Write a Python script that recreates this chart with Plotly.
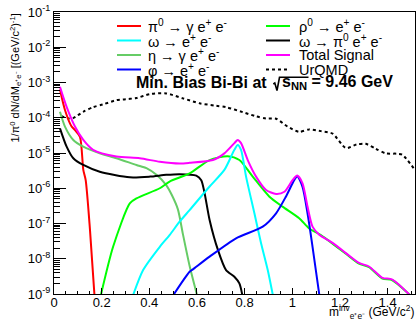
import numpy as np
import plotly.graph_objects as go

# ---------------- data (x in GeV/c^2, y given as log10 of yield) ----------------
pi0_x   = [0.025, 0.046, 0.074, 0.088, 0.109, 0.123, 0.133, 0.151, 0.170]
pi0_log = [-3.20, -3.78, -4.25, -4.35, -4.54, -5.48, -5.77, -7.18, -9.05]

eta_x   = [0.025, 0.046, 0.081, 0.123, 0.192, 0.262, 0.346, 0.388, 0.430, 0.471, 0.495, 0.520, 0.541, 0.569, 0.601]
eta_log = [-3.83, -4.25, -4.63, -4.82, -5.01, -5.15, -5.34, -5.43, -5.62, -5.91, -6.20, -6.60, -7.30, -8.20, -9.05]

omdal_x   = [0.025, 0.053, 0.081, 0.123, 0.192, 0.318, 0.402, 0.471, 0.527, 0.597, 0.618, 0.632, 0.653, 0.688, 0.722, 0.757, 0.778, 0.791]
omdal_log = [-4.30, -4.82, -5.15, -5.34, -5.53, -5.69, -5.67, -5.62, -5.60, -5.64, -5.77, -6.14, -6.90, -7.75, -8.32, -8.51, -8.70, -9.05]

rho_x   = [0.196, 0.248, 0.318, 0.346, 0.444, 0.485, 0.569, 0.653, 0.729, 0.778, 0.834, 0.904, 0.959, 1.029, 1.071, 1.120,
           1.169, 1.225, 1.280, 1.322, 1.378, 1.420, 1.492]
rho_log = [-9.05, -7.66, -6.43, -6.29, -6.00, -5.81, -5.58, -5.20, -5.09, -5.20, -5.67, -6.24, -6.52, -6.85, -7.14, -7.33,
           -7.57, -7.86, -8.14, -8.24, -8.56, -8.61, -9.02]

omee_x   = [0.331, 0.374, 0.444, 0.485, 0.527, 0.569, 0.653, 0.715, 0.757, 0.771, 0.785, 0.806, 0.841, 0.869, 0.897, 0.919]
omee_log = [-9.05, -8.32, -7.66, -7.33, -6.95, -6.62, -5.95, -5.48, -4.91, -4.77, -4.91, -5.67, -6.71, -7.56, -8.32, -9.05]

phi_x   = [0.499, 0.569, 0.583, 0.653, 0.764, 0.876, 0.932, 0.973, 1.008, 1.021, 1.043, 1.064, 1.085, 1.114]
phi_log = [-9.05, -8.37, -8.30, -7.94, -7.42, -7.09, -6.71, -6.24, -5.77, -5.66, -5.96, -6.71, -7.66, -9.05]

tot_x   = [0.025, 0.053, 0.088, 0.123, 0.164, 0.262, 0.360, 0.444, 0.527, 0.569, 0.667, 0.715, 0.757, 0.771, 0.785, 0.813,
           0.848, 0.890, 0.932, 0.967, 1.001, 1.021, 1.043, 1.064, 1.085, 1.113, 1.169, 1.225, 1.280, 1.322, 1.378, 1.420, 1.492]
tot_log = [-3.12, -3.69, -4.25, -4.63, -4.91, -5.10, -5.15, -5.25, -5.30, -5.28, -5.20, -5.01, -4.72, -4.63, -4.72, -5.20,
           -5.67, -6.05, -6.16, -6.10, -5.77, -5.64, -5.86, -6.52, -7.09, -7.32, -7.55, -7.84, -8.12, -8.22, -8.54, -8.59, -9.02]

urqmd_x   = [0.030, 0.060, 0.080, 0.123, 0.164, 0.206, 0.262, 0.290, 0.346, 0.402, 0.471, 0.541, 0.611, 0.681, 0.722, 0.792,
             0.848, 0.890, 0.932, 0.980, 1.029, 1.071, 1.120, 1.169, 1.225, 1.270, 1.308, 1.350, 1.392, 1.440, 1.462, 1.515]
urqmd_log = [-3.95, -4.02, -4.01, -3.83, -3.70, -3.62, -3.50, -3.48, -3.44, -3.33, -3.31, -3.45, -3.59, -3.66, -3.70, -3.84,
             -3.96, -4.02, -4.03, -4.25, -4.40, -4.33, -4.38, -4.45, -4.86, -4.76, -4.74, -4.88, -5.01, -5.02, -5.05, -5.48]

y_tick_exponents = [-9, -8, -7, -6, -5, -4, -3, -2, -1]
x_tick_values = [0, 0.2, 0.4, 0.6, 0.8, 1.0, 1.2, 1.4]
x_tick_labels = ["0", "0.2", "0.4", "0.6", "0.8", "1", "1.2", "1.4"]

series = [
    ("π<sup>0</sup> → γ e<sup>+</sup> e<sup>-</sup>", pi0_x, pi0_log, "#ff0000", "solid"),
    ("ω → e<sup>+</sup> e<sup>-</sup>", omee_x, omee_log, "#00ffff", "solid"),
    ("η → γ e<sup>+</sup> e<sup>-</sup>", eta_x, eta_log, "#66cc66", "solid"),
    ("φ → e<sup>+</sup> e<sup>-</sup>", phi_x, phi_log, "#0000ff", "solid"),
    ("ρ<sup>0</sup> → e<sup>+</sup> e<sup>-</sup>", rho_x, rho_log, "#00ff00", "solid"),
    ("ω → π<sup>0</sup> e<sup>+</sup> e<sup>-</sup>", omdal_x, omdal_log, "#000000", "solid"),
    ("Total Signal", tot_x, tot_log, "#ff00ff", "solid"),
    ("UrQMD", urqmd_x, urqmd_log, "#000000", "dot"),
]

W, H = 417, 321
L, R, T, B = 54, 2, 12, 27
PW, PH = W - L - R, H - T - B

def px(xp):
    return (xp - L) / PW

def py(yp):
    return (H - B - yp) / PH

fig = go.Figure()
draw_order = [7, 0, 2, 5, 4, 1, 3, 6]
for i in draw_order:
    name, xs, ls, col, dash = series[i]
    fig.add_trace(go.Scatter(
        x=xs, y=10 ** np.array(ls), mode="lines", name=name,
        line=dict(color=col, width=2, dash=dash, shape="spline", smoothing=0.7),
        showlegend=False, hoverinfo="skip"))

FONT = "Liberation Sans, Arial, sans-serif"

# manual two-column legend (ROOT style)
rows = [26, 40.5, 55, 69.5]
cols = [(117, 141, 146), (266, 290, 297)]
for k, (name, xs, ls, col, dash) in enumerate(series):
    c = cols[k // 4]
    r = rows[k % 4]
    fig.add_shape(type="line", xref="paper", yref="paper",
                  x0=px(c[0]), x1=px(c[1]), y0=py(r), y1=py(r),
                  line=dict(color=col, width=2, dash=dash))
    fig.add_annotation(xref="paper", yref="paper", x=px(c[2]), y=py(r),
                       xanchor="left", yanchor="middle", showarrow=False,
                       text=name, font=dict(family=FONT, size=14.5, color="black"))

# title: "Min. Bias Bi-Bi at sqrt(s_NN) = 9.46 GeV"
fig.add_annotation(xref="paper", yref="paper", x=px(268.5), y=py(82),
                   xanchor="right", yanchor="middle", showarrow=False,
                   text="<b>Min. Bias Bi-Bi at</b>",
                   font=dict(family=FONT, size=16, color="black"))
fig.add_annotation(xref="paper", yref="paper", x=px(280), y=py(82),
                   xanchor="left", yanchor="middle", showarrow=False,
                   text="<b>s<sub>NN</sub> = 9.46 GeV</b>",
                   font=dict(family=FONT, size=16, color="black"))
fig.add_shape(type="path", xref="paper", yref="paper",
              path="M {} {} L {} {} L {} {} L {} {} L {} {}".format(
                  px(273.3), py(84), px(274.8), py(83), px(277), py(90.5),
                  px(279.5), py(77.3), px(308.5), py(77.3)),
              line=dict(color="black", width=1.6))

fig.add_annotation(xref="paper", yref="paper", x=px(15), y=py(12),
                   xanchor="center", yanchor="top", textangle=-90, showarrow=False,
                   text="1/π<sup>0</sup> dN/dM<sub>e⁺e⁻</sub> [(GeV/c<sup>2</sup>)<sup>-1</sup>]",
                   font=dict(family=FONT, size=11, color="black"))

fig.add_annotation(xref="paper", yref="paper", x=px(416), y=py(312),
                   xanchor="right", yanchor="middle", showarrow=False,
                   text="m<sup>inv</sup><sub>e⁺e⁻</sub> (GeV/c<sup>2</sup>)",
                   font=dict(family=FONT, size=12, color="black"))

fig.update_layout(
    width=W, height=H, margin=dict(l=L, r=R, t=T, b=B),
    paper_bgcolor="white", plot_bgcolor="white",
    font=dict(family=FONT, size=13, color="black"),
    xaxis=dict(range=[0, 1.515], tickvals=x_tick_values, ticktext=x_tick_labels,
               ticks="inside", ticklen=6, ticklabelstandoff=-4,
               tickwidth=1, tickcolor="black", showgrid=False, zeroline=False,
               showline=True, linecolor="black", linewidth=1, mirror=True,
               minor=dict(dtick=0.05, tick0=0, ticks="inside", ticklen=3, tickcolor="black", showgrid=False),
               tickfont=dict(family=FONT, size=13)),
    yaxis=dict(type="log", range=[-9, -1],
               tickvals=[10.0 ** e for e in y_tick_exponents],
               ticktext=["10<sup>{}</sup>".format(e) for e in y_tick_exponents],
               ticks="inside", ticklen=12,
               tickwidth=1, tickcolor="black",
               showgrid=False, zeroline=False, showline=True, linecolor="black",
               linewidth=1, mirror=True,
               minor=dict(dtick="D1", ticks="inside", ticklen=6, tickcolor="black", showgrid=False),
               tickfont=dict(family=FONT, size=13)),
)

fig.write_html("out.html")
